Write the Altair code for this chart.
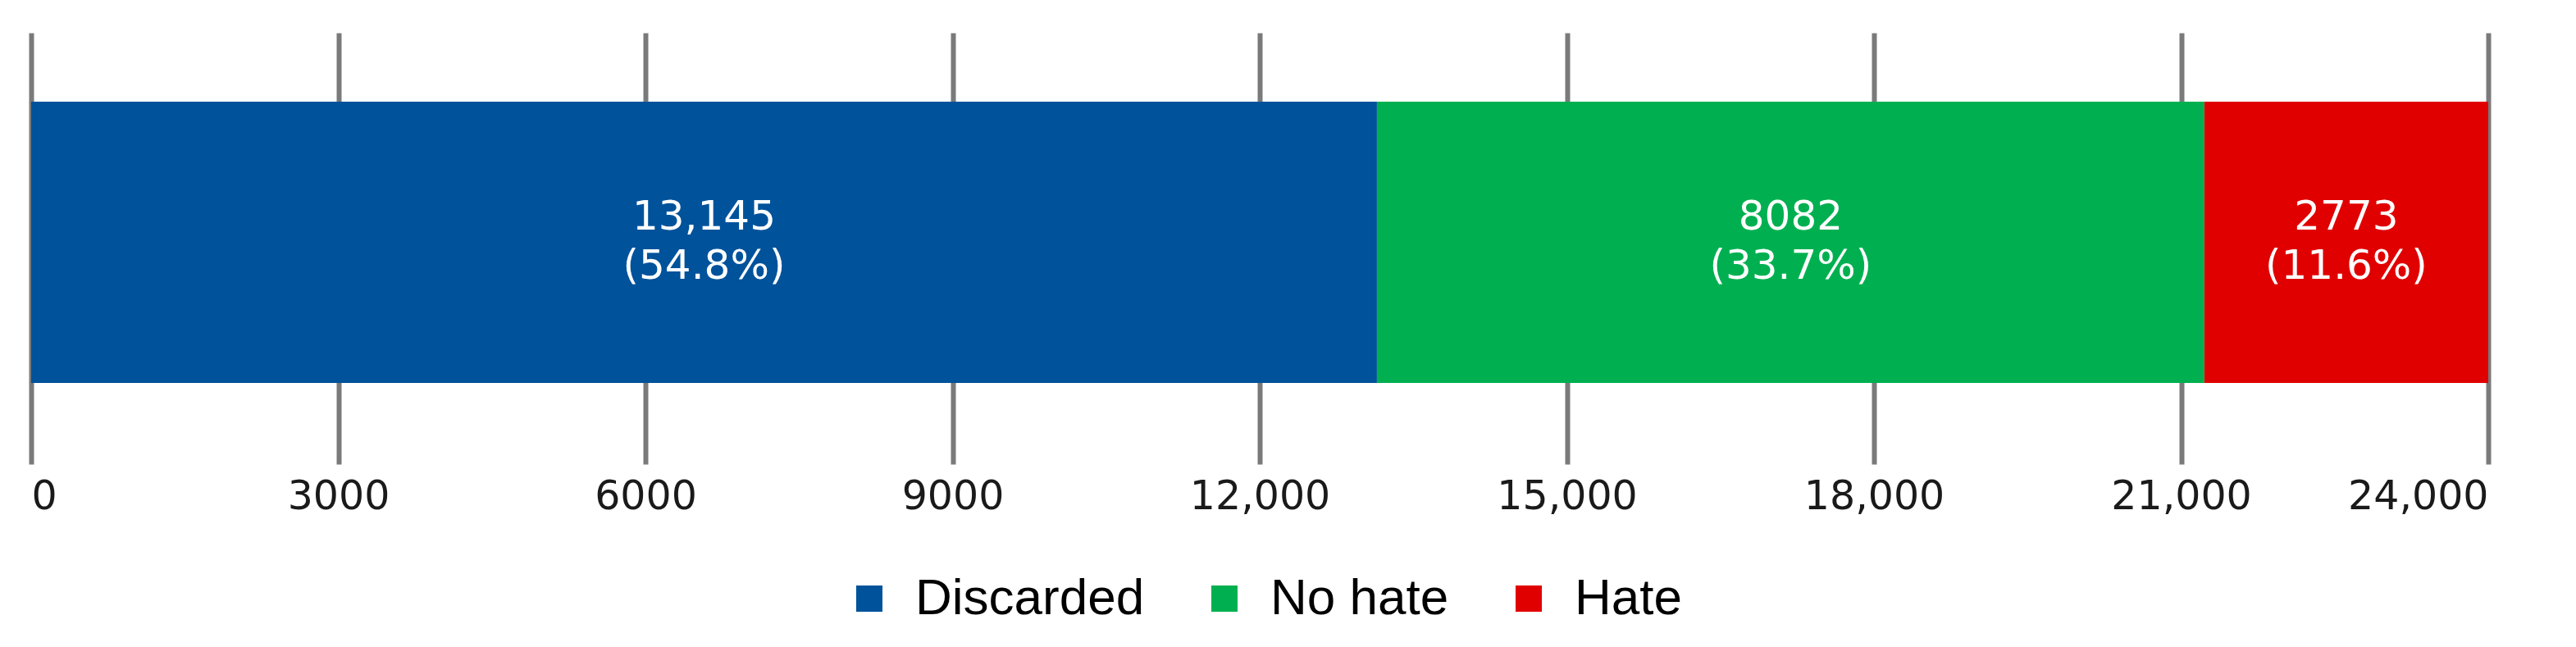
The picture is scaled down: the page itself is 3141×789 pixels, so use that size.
import altair as alt
import pandas as pd

categories = ["Discarded", "No hate", "Hate"]
counts = [13145, 8082, 2773]
percents = ["54.8%", "33.7%", "11.6%"]
colors = ["#00529B", "#00B050", "#E00000"]
tick_values = [0, 3000, 6000, 9000, 12000, 15000, 18000, 21000, 24000]


def fmt_count(c):
    return f"{c:,}" if c >= 10000 else str(c)


df = pd.DataFrame({
    "category": categories,
    "count": counts,
    "order": list(range(len(categories))),
    "row": ["all"] * len(categories),
    "label": [f"{fmt_count(c)}\n({p})" for c, p in zip(counts, percents)],
})

xscale = alt.Scale(domain=[0, 24000], nice=False, zero=True)
yscale = alt.Scale(paddingOuter=0.267, paddingInner=0, align=0.459)

base = alt.Chart(df)

bars = base.mark_bar().encode(
    x=alt.X(
        "count:Q",
        stack="zero",
        scale=xscale,
        axis=alt.Axis(
            values=tick_values,
            grid=True,
            gridColor="#7a7a7a",
            gridWidth=6,
            ticks=False,
            domain=False,
            title=None,
            labelFont="DejaVu Sans",
            labelFontSize=49,
            labelColor="#1a1a1a",
            labelPadding=15,
            labelExpr="datum.value >= 10000 ? format(datum.value, ',') : format(datum.value, 'd')",
            labelOverlap=False,
        ),
    ),
    y=alt.Y("row:N", axis=None, scale=yscale),
    color=alt.Color(
        "category:N",
        scale=alt.Scale(domain=categories, range=colors),
        legend=alt.Legend(
            orient="none",
            legendX=991,
            legendY=659,
            direction="horizontal",
            columns=3,
            title=None,
            symbolType="square",
            symbolSize=1024,
            symbolStrokeWidth=0,
            symbolOpacity=1,
            labelFont="Liberation Sans",
            labelFontSize=62,
            labelColor="black",
            labelOffset=25,
            labelLimit=1000,
            columnPadding=66,
            padding=0,
        ),
    ),
    order=alt.Order("order:Q"),
)

labels = base.transform_window(
    cum="sum(count)", sort=[alt.SortField("order")]
).transform_calculate(
    mid="datum.cum - datum.count / 2"
).mark_text(
    font="DejaVu Sans",
    fontSize=50,
    color="white",
    lineBreak="\n",
    lineHeight=60,
    align="center",
    baseline="middle",
    dy=-30,
).encode(
    x=alt.X("mid:Q", scale=xscale),
    y=alt.Y("row:N", scale=yscale, axis=None),
    text="label:N",
)

chart = alt.layer(bars, labels).properties(
    width=2996,
    height=526,
    autosize="none",
    padding={"left": 30, "top": 32, "right": 99, "bottom": 215},
).configure_view(stroke=None)

chart.save("out.html", embed_options={"renderer": "svg", "actions": False})
